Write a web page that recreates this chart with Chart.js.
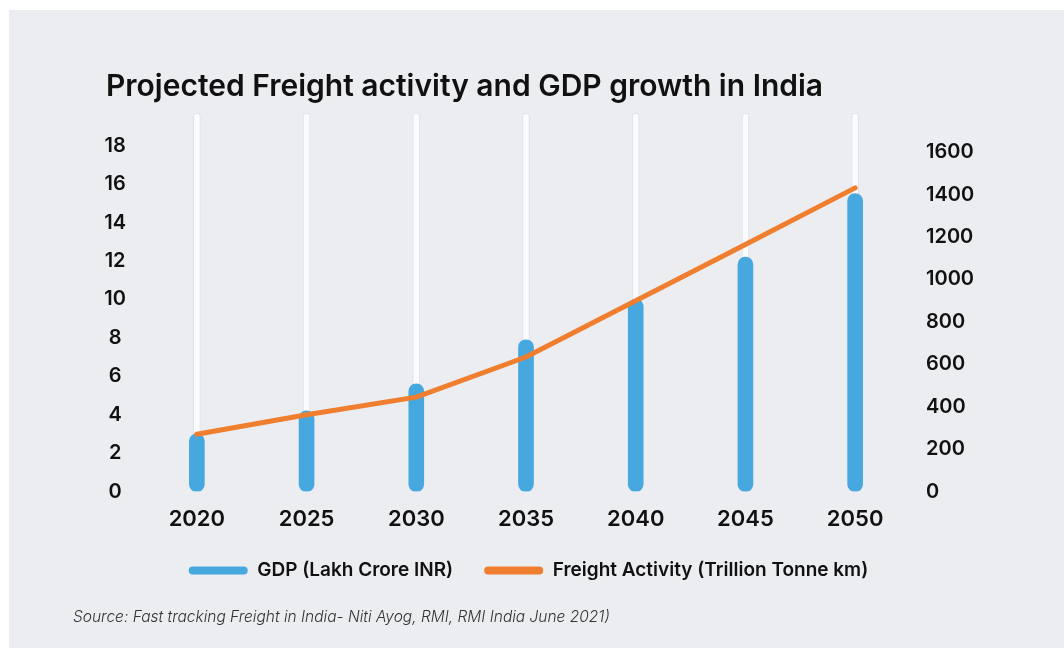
<!DOCTYPE html>
<html>
<head>
<meta charset="utf-8">
<script src="https://cdn.jsdelivr.net/npm/chart.js@4"></script>
<style>
  body { margin: 0; background: #ffffff; }
  #wrap { position: absolute; left: 9px; top: 10px; width: 1055px; height: 638px; background: #ecedf1; }
  #chart { position: absolute; left: 0; top: 0; }
  #title { position: absolute; left: 97px; top: 57px; font-family: Inter, sans-serif; font-weight: 600; font-size: 30px; color: #111; white-space: nowrap; }
  #source { position: absolute; left: 64px; top: 597px; font-family: Inter, sans-serif; font-style: italic; font-weight: 300; font-size: 15.5px; color: #333; white-space: nowrap; }
</style>
</head>
<body>
<div id="wrap">
  <canvas id="chart" width="1055" height="638"></canvas>
  <div id="title">Projected Freight activity and GDP growth in India</div>
  <div id="source">Source: Fast tracking Freight in India- Niti Ayog, RMI, RMI India June 2021)</div>
</div>
<script>
let years = ["2020", "2025", "2030", "2035", "2040", "2045", "2050"];
let gdpData = [3.0, 4.2, 5.6, 7.9, 10.0, 12.2, 15.5];
let freightData = [270, 362, 445, 634, 900, 1165, 1432];
let leftTicks = [0, 2, 4, 6, 8, 10, 12, 14, 16, 18];
let rightTicks = [0, 200, 400, 600, 800, 1000, 1200, 1400, 1600];

let blue = "#47a8df";
let orange = "#f07e2f";
let textColour = "#111111";

let leftMax = 19.7;
let rightMax = 1785;

// white rails behind each bar, reaching the top of the plot
let trackData = years.map(() => leftMax);

let ctx = document.getElementById("chart").getContext("2d");

new Chart(ctx, {
    type: "bar",
    data: {
        labels: years,
        datasets: [
            {
                type: "line",
                label: "Freight Activity (Trillion Tonne km)",
                data: freightData,
                yAxisID: "y1",
                borderColor: orange,
                backgroundColor: orange,
                borderWidth: 5,
                pointRadius: 0,
                borderCapStyle: "round",
                tension: 0,
                order: 0
            },
            {
                label: "GDP (Lakh Crore INR)",
                data: gdpData,
                yAxisID: "y",
                backgroundColor: blue,
                barThickness: 15,
                borderRadius: 8,
                borderSkipped: false,
                grouped: false,
                order: 1
            },
            {
                label: "track",
                data: trackData,
                yAxisID: "y",
                backgroundColor: "#fbfbfd",
                borderColor: "#dfe1e8",
                borderWidth: 1,
                barThickness: 7,
                borderRadius: 4,
                borderSkipped: false,
                grouped: false,
                order: 2
            }
        ]
    },
    options: {
        responsive: false,
        animation: false,
        layout: {
            padding: { top: 103, left: 20, right: 36, bottom: 58 }
        },
        plugins: {
            tooltip: { enabled: false },
            legend: {
                position: "bottom",
                labels: {
                    color: textColour,
                    font: { family: "Inter", size: 19, weight: 600 },
                    boxWidth: 59,
                    boxHeight: 8,
                    padding: 31,
                    useBorderRadius: true,
                    borderRadius: 4,
                    generateLabels: function(chart) {
                        let items = [];
                        chart.data.datasets.forEach((ds, i) => {
                            if (ds.label == "track") return;
                            let colour = ds.type == "line" ? orange : blue;
                            items.push({
                                text: ds.label,
                                fillStyle: colour,
                                strokeStyle: colour,
                                lineWidth: 0,
                                fontColor: textColour,
                                borderRadius: 4,
                                datasetIndex: i
                            });
                        });
                        // bars first, then the line
                        return items.reverse();
                    }
                }
            }
        },
        scales: {
            x: {
                grid: { display: false, drawTicks: false },
                border: { display: false },
                ticks: {
                    color: textColour,
                    font: { family: "Inter", size: 22, weight: 600 },
                    padding: 15
                },
                afterFit: function(scale) { scale.height = 38.5; }
            },
            y: {
                position: "left",
                min: 0,
                max: leftMax,
                grid: { display: false, drawTicks: false },
                border: { display: false },
                ticks: {
                    color: textColour,
                    font: { family: "Inter", size: 20, weight: 600 },
                    crossAlign: "center",
                    padding: 16
                },
                afterBuildTicks: function(scale) {
                    scale.ticks = leftTicks.map(v => ({ value: v }));
                },
                afterFit: function(scale) { scale.width = 113; }
            },
            y1: {
                position: "right",
                min: 0,
                max: rightMax,
                grid: { display: false, drawTicks: false },
                border: { display: false },
                ticks: {
                    color: textColour,
                    font: { family: "Inter", size: 20, weight: 600 },
                    padding: 16,
                    callback: function(value) { return String(value); }
                },
                afterBuildTicks: function(scale) {
                    scale.ticks = rightTicks.map(v => ({ value: v }));
                },
                afterFit: function(scale) { scale.width = 118; }
            }
        }
    }
});
</script>
</body>
</html>
